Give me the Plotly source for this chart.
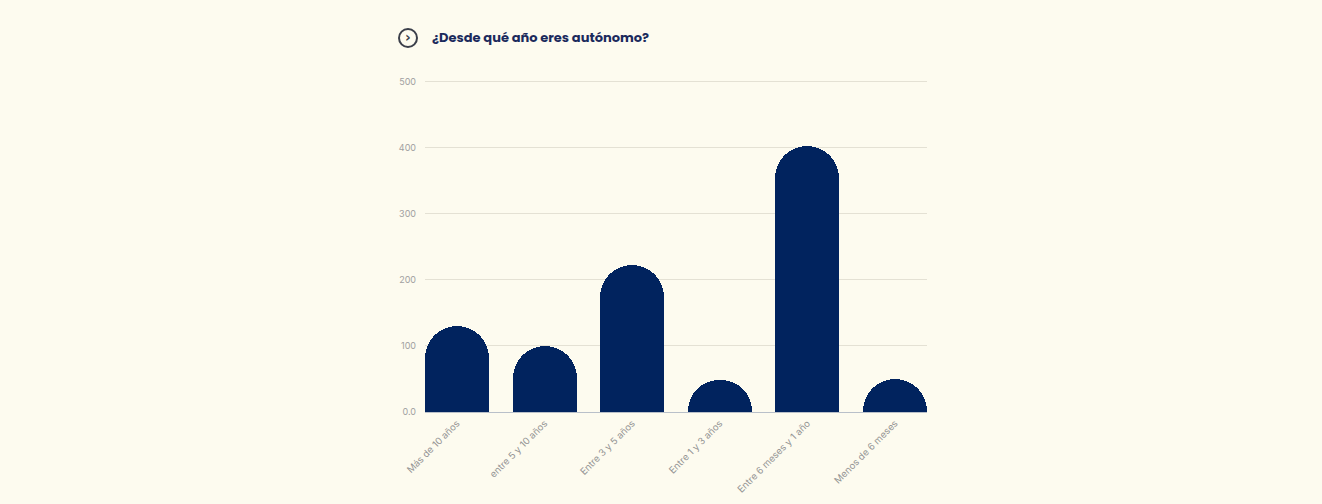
import plotly.graph_objects as go

categories = [
    "Más de 10 años",
    "entre 5 y 10 años",
    "Entre 3 y 5 años",
    "Entre 1 y 3 años",
    "Entre 6 meses y 1 año",
    "Menos de 6 meses",
]
counts = [130, 100, 222, 48, 403, 50]
y_tick_values = [0, 100, 200, 300, 400, 500]
y_tick_labels = ["0.0", "100", "200", "300", "400", "500"]

title_text = "¿Desde qué año eres autónomo?"

BG = "#fdfbef"
NAVY = "#01235e"

fig = go.Figure(
    go.Bar(
        x=list(range(len(categories))),
        y=counts,
        width=0.73,
        marker=dict(color=NAVY, cornerradius="50%", line=dict(width=0)),
        hoverinfo="y",
    )
)

fig.update_layout(
    width=1322,
    height=504,
    paper_bgcolor=BG,
    plot_bgcolor=BG,
    margin=dict(l=425, r=395, t=78, b=92, autoexpand=False),
    showlegend=False,
    bargap=0,
    xaxis=dict(
        range=[-0.365, 5.365],
        tickmode="array",
        tickvals=list(range(len(categories))),
        ticktext=categories,
        tickangle=-45,
        tickfont=dict(family="Inter, Open Sans, sans-serif", size=9.5, color="#939393"),
        showgrid=False,
        showline=False,
        zeroline=False,
        ticks="",
        ticklabelstandoff=3,
        automargin=False,
    ),
    yaxis=dict(
        range=[0, 506],
        tickmode="array",
        tickvals=y_tick_values,
        ticktext=y_tick_labels,
        tickfont=dict(family="Inter, Open Sans, sans-serif", size=9, color="#a0a0a0"),
        showgrid=True,
        gridcolor="#e4e1d4",
        gridwidth=1,
        zeroline=True,
        zerolinecolor="#b9c0c9",
        zerolinewidth=1,
        showline=False,
        ticks="",
        ticklabelstandoff=8,
        automargin=False,
    ),
)

# Title with circled chevron icon
plot_h = 504 - 78 - 92
icon_x = -17.0 / 502
title_y = 1 + 40.0 / plot_h
fig.add_shape(
    type="circle",
    xref="paper", yref="paper",
    xsizemode="pixel", ysizemode="pixel",
    xanchor=icon_x, yanchor=title_y,
    x0=-9, x1=9, y0=-9, y1=9,
    line=dict(color="#3b3f4a", width=2),
    fillcolor="rgba(0,0,0,0)",
)
fig.add_annotation(
    xref="paper", yref="paper",
    x=icon_x, y=title_y,
    text="<b>›</b>",
    showarrow=False,
    font=dict(family="DejaVu Sans, sans-serif", size=14, color="#3b3f4a"),
    xanchor="center", yanchor="middle",
    yshift=1,
)
fig.add_annotation(
    xref="paper", yref="paper",
    x=5.0 / 502, y=title_y,
    text="<b>" + title_text + "</b>",
    showarrow=False,
    font=dict(family="Poppins, Inter, Open Sans, sans-serif", size=13, color="#1b2a5c"),
    xanchor="left", yanchor="middle",
)

fig.write_html("out.html")
